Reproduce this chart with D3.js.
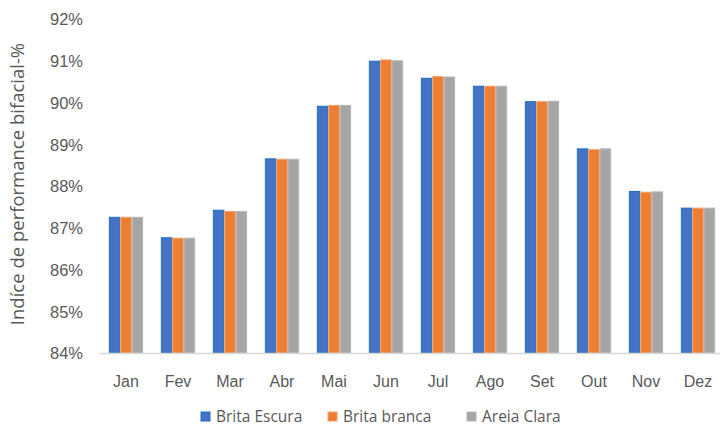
<!DOCTYPE html>
<html>
<head>
<meta charset="utf-8">
<script src="https://cdn.jsdelivr.net/npm/d3@7"></script>
<style>
  html, body { margin: 0; padding: 0; background: #fff; }
  svg { display: block; font-family: "Open Sans", "Liberation Sans", sans-serif; }
</style>
</head>
<body>
<svg id="chart" width="720" height="426"></svg>
<script>
// Monthly bifacial performance index by ground surface type
const months = ["Jan", "Fev", "Mar", "Abr", "Mai", "Jun", "Jul", "Ago", "Set", "Out", "Nov", "Dez"];
const seriesNames = ["Brita Escura", "Brita branca", "Areia Clara"];
const britaEscura  = [87.25, 86.76, 87.42, 88.65, 89.91, 90.99, 90.58, 90.39, 90.02, 88.89, 87.87, 87.47];
const britaBranca  = [87.25, 86.75, 87.39, 88.64, 89.93, 91.02, 90.62, 90.39, 90.02, 88.87, 87.85, 87.47];
const areiaClara   = [87.25, 86.75, 87.39, 88.64, 89.93, 91.00, 90.61, 90.39, 90.03, 88.89, 87.86, 87.47];
const yTicks = [84, 85, 86, 87, 88, 89, 90, 91, 92];

const seriesValues = [britaEscura, britaBranca, areiaClara];
const fills   = ["#4472C4", "#ED7D31", "#A5A5A5"];
const strokes = ["#1F6FC0", "#F3A06A", "#B5B5B5"];

const svg = d3.select("#chart");
const plotLeft = 100, plotRight = 724, plotTop = 19, plotBottom = 353;

const x = d3.scaleBand().domain(months).range([plotLeft, plotRight]).paddingInner(0.36).paddingOuter(0.18);
const xs = d3.scaleBand().domain(seriesNames).range([0, x.bandwidth()]).paddingInner(0.08);
const y = d3.scaleLinear().domain([84, 92]).range([plotBottom, plotTop]);

const textColor = "#595959";

// y axis labels
const yAxis = d3.axisLeft(y).tickValues(yTicks).tickSize(0).tickPadding(0)
  .tickFormat(d => d + "%");
const gy = svg.append("g").attr("transform", "translate(83,0)").call(yAxis);
gy.select(".domain").remove();
gy.selectAll("text").attr("fill", textColor).attr("font-size", 16.5).attr("dy", "0.35em");

// bars
const table = months.map((m, i) => ({ month: m, vals: seriesNames.map((s, k) => ({ s, k, v: seriesValues[k][i] })) }));
const groups = svg.append("g").selectAll("g").data(table).join("g")
  .attr("transform", d => `translate(${x(d.month)},0)`);
groups.selectAll("rect").data(d => d.vals).join("rect")
  .attr("x", d => xs(d.s))
  .attr("width", xs.bandwidth())
  .attr("y", d => y(d.v))
  .attr("height", d => y(84) - y(d.v))
  .attr("fill", d => fills[d.k])
  .attr("stroke", d => strokes[d.k])
  .attr("stroke-width", 1);

// x axis
const xAxis = d3.axisBottom(x).tickSize(0).tickPadding(0);
const gx = svg.append("g").attr("transform", `translate(0,${plotBottom})`).call(xAxis);
gx.select(".domain").attr("stroke", "#D9D9D9").attr("stroke-width", 1.5)
  .attr("d", `M${plotLeft},0.5H${plotRight}`);
gx.selectAll("text").attr("fill", textColor).attr("font-size", 16).attr("dy", 0).attr("y", 34);

// y axis title
svg.append("text")
  .attr("transform", "translate(24,184) rotate(-90)")
  .attr("text-anchor", "middle")
  .attr("fill", textColor)
  .attr("font-size", 18.5)
  .text("Indíce de performance bifacial-%");

// legend
const legendX = [201, 328, 467];
const legend = svg.append("g").selectAll("g").data(seriesNames).join("g")
  .attr("transform", (d, i) => `translate(${legendX[i]},411)`);
legend.append("rect").attr("y", 1).attr("width", 9).attr("height", 9)
  .attr("fill", (d, i) => fills[i]).attr("stroke", (d, i) => strokes[i]).attr("stroke-width", 1);
legend.append("text").attr("x", 15).attr("y", 11).attr("fill", textColor).attr("font-size", 15.5).text(d => d);
</script>
</body>
</html>
